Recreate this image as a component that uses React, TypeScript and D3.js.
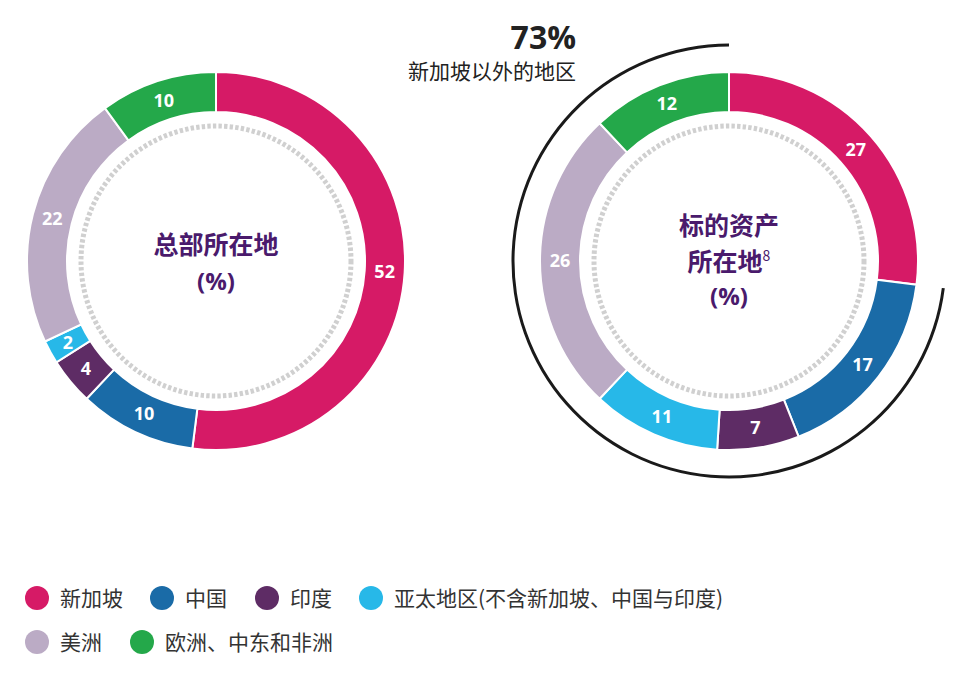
import React from "react";
import * as d3 from "d3";

const categories = ["新加坡", "中国", "印度", "亚太地区(不含新加坡、中国与印度)", "美洲", "欧洲、中东和非洲"];
const colors = ["#D61A66", "#1A6BA7", "#5E2C65", "#27B8E8", "#BBABC5", "#24A84A"];
const hqValues = [52, 10, 4, 2, 22, 10];
const assetValues = [27, 17, 7, 11, 26, 12];
const outsideLabel = "新加坡以外的地区";

const W = 966;
const H = 675;
const R_OUT = 189;
const R_IN = 149;
const R_DOT = 135;
const FONT = "'Open Sans', 'Noto Sans CJK SC', sans-serif";
const CJK = "'Noto Sans CJK SC', 'Open Sans', sans-serif";
const TITLE_COLOR = "#4A1A6C";

function Donut({ cx, cy, values, title }: { cx: number; cy: number; values: number[]; title: React.ReactNode }) {
  const pie = d3.pie<number>().sort(null).value((d) => d);
  const arcs = pie(values);
  const arc = d3.arc<d3.PieArcDatum<number>>().innerRadius(R_IN).outerRadius(R_OUT);
  return (
    <g transform={`translate(${cx},${cy})`}>
      <circle r={R_DOT} fill="none" stroke="#D0D0D0" strokeWidth={5} strokeDasharray="3.4 2.2" />
      {arcs.map((a, i) => (
        <path key={i} d={arc(a) || ""} fill={colors[i]} stroke="#fff" strokeWidth={2} />
      ))}
      {arcs.map((a, i) => {
        const [x, y] = arc.centroid(a);
        return (
          <text key={"t" + i} x={x} y={y} dy="0.36em" textAnchor="middle" fill="#fff"
            fontFamily={FONT} fontWeight={700} fontSize={18}>
            {a.data}
          </text>
        );
      })}
      {title}
    </g>
  );
}

export default function App() {
  const leftC = { x: 216, y: 261 };
  const rightC = { x: 729, y: 261 };
  const outsideShare = 100 - assetValues[0];
  const bracket = d3.arc()
    .innerRadius(214.5)
    .outerRadius(217.5)
    .startAngle((assetValues[0] / 100) * 2 * Math.PI)
    .endAngle(2 * Math.PI);

  const legendRows = [
    [{ i: 0, x: 37 }, { i: 1, x: 162 }, { i: 2, x: 267 }, { i: 3, x: 371 }],
    [{ i: 4, x: 37 }, { i: 5, x: 142 }],
  ];
  const rowY = [598, 642];

  return (
    <div style={{ position: "absolute", left: 0, top: 0 }}>
      <svg width={W} height={H} viewBox={`0 0 ${W} ${H}`}>
        <rect width={W} height={H} fill="#fff" />
        <Donut cx={leftC.x} cy={leftC.y} values={hqValues}
          title={
            <g fill={TITLE_COLOR} fontFamily={CJK} fontWeight={700} fontSize={25} textAnchor="middle">
              <text x={0} y={-7}>总部所在地</text>
              <text x={0} y={29} fontFamily={FONT} fontSize={24}>(%)</text>
            </g>
          } />
        <Donut cx={rightC.x} cy={rightC.y} values={assetValues}
          title={
            <g fill={TITLE_COLOR} fontFamily={CJK} fontWeight={700} fontSize={25} textAnchor="middle">
              <text x={0} y={-26}>标的资产</text>
              <text x={0} y={10}>所在地<tspan fontSize={14} fontWeight={400} dy={-10}>8</tspan></text>
              <text x={0} y={44} fontFamily={FONT} fontSize={24}>(%)</text>
            </g>
          } />
        <path transform={`translate(${rightC.x},${rightC.y})`} d={(bracket as any)() || ""} fill="#1a1a1a" />
        <text x={576} y={49} textAnchor="end" fontFamily={FONT} fontWeight={700} fontSize={32} fill="#222">
          {outsideShare}%
        </text>
        <text x={576} y={79} textAnchor="end" fontFamily={CJK} fontSize={21} fill="#222">
          {outsideLabel}
        </text>
        {legendRows.map((row, r) =>
          row.map(({ i, x }) => (
            <g key={i}>
              <circle cx={x} cy={rowY[r]} r={12} fill={colors[i]} />
              <text x={x + 23} y={rowY[r]} dy="0.36em" fontFamily={CJK} fontSize={21} fill="#333">
                {categories[i]}
              </text>
            </g>
          ))
        )}
      </svg>
    </div>
  );
}
